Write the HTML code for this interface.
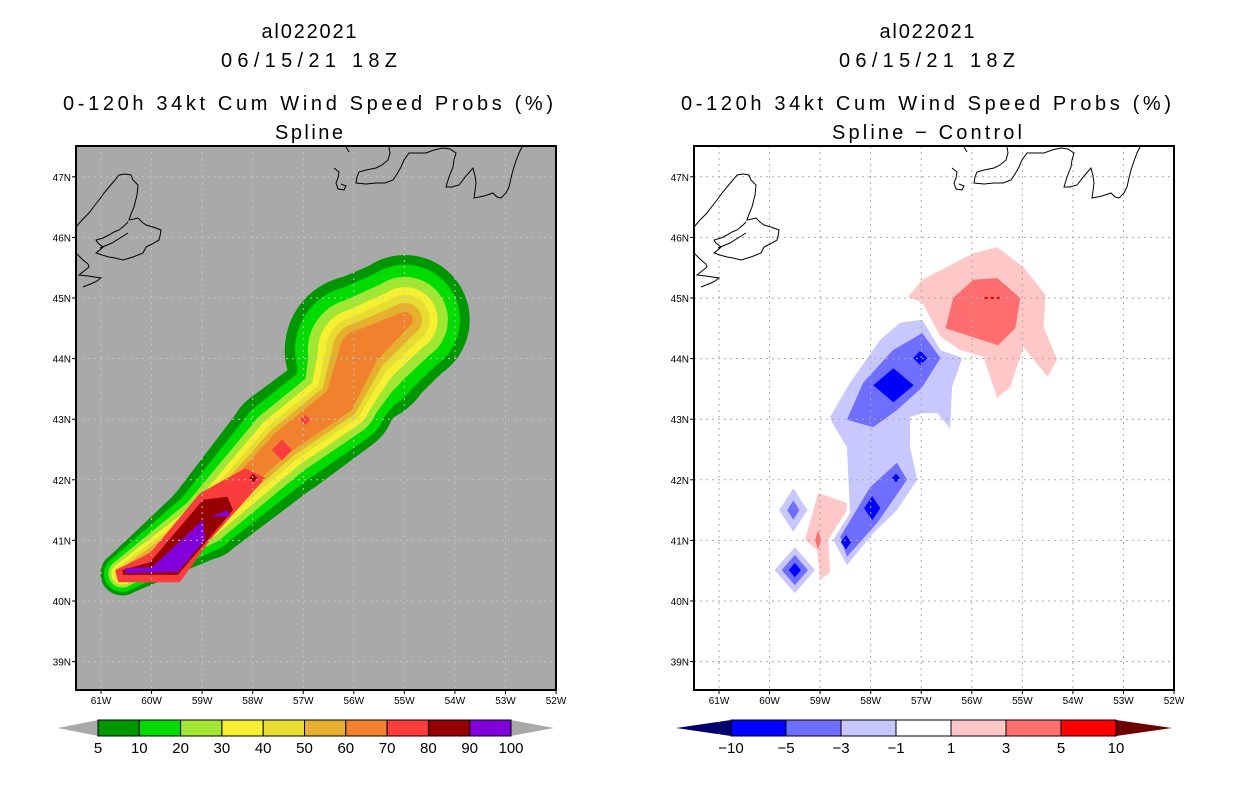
<!DOCTYPE html>
<html><head><meta charset="utf-8"><style>
html,body{margin:0;padding:0;background:#fff;}
svg text{font-family:"Liberation Sans",sans-serif;fill:#000;}
</style></head><body>
<svg id="root" width="1236" height="800" viewBox="0 0 1236 800" xmlns="http://www.w3.org/2000/svg">
<defs>
<clipPath id="clipL"><rect x="76" y="146" width="480" height="544"/></clipPath>
<clipPath id="clipR"><rect x="694" y="146" width="480" height="544"/></clipPath>
</defs>
<g font-size="20" text-anchor="middle">
<text x="309" y="38" textLength="95">al022021</text>
<text x="309" y="67" textLength="176">06/15/21 18Z</text>
<text x="308" y="110" textLength="490">0-120h 34kt Cum Wind Speed Probs (%)</text>
<text x="309" y="139" textLength="68">Spline</text>
</g>
<g font-size="20" text-anchor="middle">
<text x="927" y="38" textLength="95">al022021</text>
<text x="927" y="67" textLength="176">06/15/21 18Z</text>
<text x="926" y="110" textLength="490">0-120h 34kt Cum Wind Speed Probs (%)</text>
<text x="927" y="139" textLength="190">Spline − Control</text>
</g>
<g id="panelL"></g>
<g id="panelR"></g>
<g id="cbL"></g>
<g id="cbR"></g>
</svg>
<script>
// ---- data ----
const lonTicks = [-61,-60,-59,-58,-57,-56,-55,-54,-53,-52];
const latTicks = [39,40,41,42,43,44,45,46,47];
const lonLabels = ["61W","60W","59W","58W","57W","56W","55W","54W","53W","52W"];
const latLabels = ["39N","40N","41N","42N","43N","44N","45N","46N","47N"];
// plume track (lon, lat)
const trackLon = [-60.58,-58.94,-57.40,-56.27,-55.88,-54.99];
const trackLat = [40.45,41.34,42.62,43.32,44.14,44.64];
const probLevels = [5,10,20,30,40,50,60];
// half-width (deg lat) of each probability level at each track point
const rad5  = [0.36,0.66,0.91,0.91,1.24,1.07];
const rad10 = [0.30,0.53,0.74,0.78,1.07,0.91];
const rad20 = [0.23,0.41,0.58,0.63,0.86,0.71];
const rad30 = [0.18,0.31,0.46,0.51,0.69,0.54];
const rad40 = [0.13,0.23,0.36,0.41,0.56,0.41];
const rad50 = [0.08,0.17,0.28,0.33,0.45,0.28];
const rad60 = [0.03,0.10,0.20,0.25,0.33,0.13];
const levelRad = [rad5,rad10,rad20,rad30,rad40,rad50,rad60];
const probPurple = [[-60.52,40.54],[-59.99,40.56],[-58.98,41.34],[-58.94,41.01],[-59.48,40.48],[-60.52,40.46]];
const probPurple2 = [[-58.84,41.39],[-58.49,41.50],[-58.45,41.40]];
const probDarkRed = [[-60.58,40.51],[-60.03,40.64],[-58.98,41.67],[-58.50,41.72],[-58.39,41.50],[-59.48,40.43],[-60.56,40.43]];
const probRed = [[-60.72,40.51],[-60.03,40.79],[-59.04,41.78],[-58.15,42.19],[-57.75,42.03],[-58.84,41.01],[-59.44,40.31],[-60.66,40.31]];
const redDiamondLon = [-57.42,-56.96];
const redDiamondLat = [42.49,42.99];
const redDiamondSize = [0.2,0.1];
const darkRedDotLon = [-57.99];
const darkRedDotLat = [42.03];
// difference field polygons
const diffPink1 = [[-57.26,45.02],[-56.98,45.30],[-55.97,45.74],[-55.50,45.84],[-54.98,45.51],[-54.54,45.05],[-54.58,44.52],[-54.31,43.98],[-54.50,43.70],[-54.98,44.19],[-55.24,43.53],[-55.50,43.35],[-55.77,44.03],[-56.23,44.14],[-56.62,44.36],[-56.98,44.92]];
const diffPink3 = [[-56.52,44.50],[-56.37,45.00],[-55.97,45.30],[-55.50,45.33],[-55.04,45.00],[-55.14,44.50],[-55.48,44.22]];
const diffPinkStrip = [[-59.30,41.01],[-59.04,41.78],[-58.47,41.62],[-58.47,41.50],[-58.84,41.01],[-58.80,40.48],[-59.00,40.35],[-59.06,40.84]];
const diffBlue1 = [[-58.80,43.04],[-58.41,43.60],[-57.81,44.31],[-57.42,44.59],[-56.98,44.64],[-56.62,44.14],[-56.19,44.01],[-56.39,43.53],[-56.43,42.85],[-56.68,43.10],[-56.98,43.10],[-57.22,43.04],[-57.22,42.54],[-57.08,42.00],[-57.48,41.50],[-57.95,41.12],[-58.47,40.59],[-58.74,41.01],[-58.41,41.45],[-58.47,42.54],[-58.76,42.94]];
const diffBlue3a = [[-58.47,42.99],[-58.15,43.60],[-57.56,44.14],[-56.98,44.42],[-56.62,44.01],[-56.98,43.53],[-57.48,43.15],[-57.95,42.87]];
const diffBlue3b = [[-58.60,41.06],[-58.01,41.88],[-57.48,42.28],[-57.28,42.00],[-57.87,41.29],[-58.47,40.73]];
// diamonds: lon, lat, half-width lon, half-height lat, level
const dmLon = [-57.55,-57.02,-57.97,-58.49,-57.50,-59.53,-59.53,-59.50,-59.50,-59.50,-59.04];
const dmLat = [43.56,44.01,41.53,40.97,42.03,41.50,41.50,40.51,40.51,40.51,41.01];
const dmHw = [0.40,0.14,0.16,0.10,0.08,0.28,0.12,0.40,0.26,0.12,0.06];
const dmHh = [0.28,0.12,0.20,0.12,0.07,0.36,0.16,0.38,0.25,0.12,0.16];
const dmLev = ["b5","b5","b5","b5","b5","b1","b3","b1","b3","b5","p3"];
const probColors = ["#009600","#00dc00","#a0e632","#f5f032","#e6dc32","#e6af2d","#f0822d","#fa3c3c","#960000","#8200dc"];
const probCbLabels = ["5","10","20","30","40","50","60","70","80","90","100"];
const diffColors = ["#0000ff","#6e6eff","#c8c8ff","#ffffff","#ffc8c8","#ff6e6e","#ff0000"];
const diffCbLabels = ["−10","−5","−3","−1","1","3","5","10"];
const diffFill = {b1:"#c8c8ff",b3:"#6e6eff",b5:"#0000ff",p1:"#ffc8c8",p3:"#ff6e6e"};

const NS="http://www.w3.org/2000/svg";
function mk(tag,attrs,parent){const e=document.createElementNS(NS,tag);for(const k in attrs)e.setAttribute(k,attrs[k]);parent.appendChild(e);return e;}
const PXLON=50.56, PXLAT=60.6;
function X(x0,lon){return x0+(lon+61)*PXLON;}
function Y(lat){return 601-(lat-40)*PXLAT;}
function polyPts(x0,arr){return arr.map(p=>X(x0,p[0]).toFixed(1)+","+Y(p[1]).toFixed(1)).join(" ");}

const coast1="M76,227 L82,220 L89,213 L95,205 L99,200 L104,193 L109,187 L115,180 L119,175 L125,174 L131,175 L133,180 L138,185 L137,195 L134,207 L131,214 L129,220 L134,219 L138,218 L142,222 L146,225 L153,227 L161,230 L160,236 L159,240 L152,244 L146,247 L144,251 L143,253 L133,257 L123,260 L115,258 L109,257 L102,255 L96,253 L101,249 L103,247 L98,243 L96,240 L103,238 L109,235 L114,232 L119,230 L124,226 L128,222 M76,253 L80,257 L83,260 L88,264 L89,267 L84,271 L79,275 L88,276 L101,278 L97,281 L93,283 L88,285 L83,287 M100,248 L112,243 L120,238 L128,233";
const coast2="M346,147 L349,152 M334,168 L339,172 L338,178 L336,183 L338,189 L344,190 L346,186 L341,184 M389,147 L390,153 L388,160 L382,165 L376,168 L366,170 L359,172 L357,177 L356,183 L366,184 L376,183 L385,183 L393,180 L397,174 L401,167 L404,160 L409,153 L418,153 L426,153 L434,150 L443,148 L450,149 L456,153 L454,160 L453,167 L449,177 L446,187 L452,187 L459,185 L466,176 L473,168 L475,176 L476,183 L475,191 L474,198 L484,196 L493,193 L497,197 L501,198 L506,193 L509,187 L511,178 L513,170 L516,161 L519,153 L523,145";

function drawPanel(g,x0,bx,bg,side){
  const bgRect=mk("rect",{x:bx,y:146,width:480,height:544,fill:bg},g);
  
  
  const fills=mk("g",{"clip-path":"url(#clip"+(side==="left"?"L":"R")+")"},g);
  
  
  return fills;
}
function capsuleLevel(g,x0,rads,color){
  for(let i=0;i<trackLon.length;i++){
    const c=mk("circle",{cx:X(x0,trackLon[i]),cy:Y(trackLat[i]),r:rads[i]*PXLAT,fill:color},g);
    
    
  }
  for(let i=0;i<trackLon.length-1;i++){
    const x1=X(x0,trackLon[i]),y1=Y(trackLat[i]),x2=X(x0,trackLon[i+1]),y2=Y(trackLat[i+1]);
    const r1=rads[i]*PXLAT,r2=rads[i+1]*PXLAT;
    const dx=x2-x1,dy=y2-y1,L=Math.hypot(dx,dy),nx=-dy/L,ny=dx/L;
    const pts=[[x1+nx*r1,y1+ny*r1],[x2+nx*r2,y2+ny*r2],[x2-nx*r2,y2-ny*r2],[x1-nx*r1,y1-ny*r1]].map(p=>p[0].toFixed(1)+","+p[1].toFixed(1)).join(" ");
    const q=mk("polygon",{points:pts,fill:color},g);
    
    
  }
}
function diamond(g,x0,lon,lat,hw,hh,color){
  const cx=X(x0,lon),cy=Y(lat),w=hw*PXLON,h=hh*PXLAT;
  const d=mk("polygon",{points:`${cx-w},${cy} ${cx},${cy-h} ${cx+w},${cy} ${cx},${cy+h}`,fill:color},g);
  
  
}
function gridAxes(g,x0,bx,gridCol,side){
  const gg=mk("g",{stroke:gridCol,"stroke-width":1,"stroke-dasharray":"2,4"},g);
  
  
  lonTicks.forEach(l=>{const x=X(x0,l);if(x>bx&&x<bx+480)mk("line",{x1:x,y1:146,x2:x,y2:690},gg);});
  latTicks.forEach(l=>{const y=Y(l);mk("line",{x1:bx,y1:y,x2:bx+480,y2:y},gg);});
  const cst=mk("path",{d:coast1+" "+coast2,fill:"none",stroke:"#000","stroke-width":1,transform:`translate(${bx-76},0)`},g);
  
  
  const fr=mk("rect",{x:bx,y:146,width:480,height:544,fill:"none",stroke:"#000","stroke-width":2},g);
  
  
  lonTicks.forEach((l,i)=>{
    const x=X(x0,l);
    const t=mk("text",{x:x,y:704,"font-size":10,"text-anchor":"middle"},g);t.textContent=lonLabels[i];
    
    
    mk("line",{x1:x,y1:690,x2:x,y2:694,stroke:"#000"},g);
  });
  latTicks.forEach((l,i)=>{
    const y=Y(l);
    const t=mk("text",{x:bx-5,y:y+4,"font-size":10,"text-anchor":"end"},g);t.textContent=latLabels[i];
    
    
    mk("line",{x1:bx-4,y1:y,x2:bx,y2:y,stroke:"#000"},g);
  });
}
// ---- left panel ----
const gL=document.getElementById("panelL");
const fL=drawPanel(gL,101,76,"#a9a9a9","left");
probLevels.forEach((lv,i)=>capsuleLevel(fL,101,levelRad[i],probColors[i]));
[[probRed,probColors[7]],[probDarkRed,probColors[8]],[probPurple,probColors[9]],[probPurple2,probColors[9]]].forEach(([arr,c])=>{
  const p=mk("polygon",{points:polyPts(101,arr),fill:c},fL);
  
  
});
redDiamondLon.forEach((l,i)=>diamond(fL,101,l,redDiamondLat[i],redDiamondSize[i],redDiamondSize[i]*0.85,probColors[7]));
darkRedDotLon.forEach((l,i)=>diamond(fL,101,l,darkRedDotLat[i],0.08,0.07,probColors[8]));
gridAxes(gL,101,76,"#c4c4c4","left");
// ---- right panel ----
const gR=document.getElementById("panelR");
const fR=drawPanel(gR,719,694,"#ffffff","right");
[[diffPink1,diffFill.p1],[diffPink3,diffFill.p3],[diffPinkStrip,diffFill.p1],[diffBlue1,diffFill.b1],[diffBlue3a,diffFill.b3],[diffBlue3b,diffFill.b3]].forEach(([arr,c])=>{
  const p=mk("polygon",{points:polyPts(719,arr),fill:c},fR);
  
  
});
dmLon.forEach((l,i)=>diamond(fR,719,l,dmLat[i],dmHw[i],dmHh[i],diffFill[dmLev[i]]));
const dash=mk("line",{x1:X(719,-55.75),y1:Y(45),x2:X(719,-55.45),y2:Y(45),stroke:"#ff0000","stroke-width":2,"stroke-dasharray":"4,2"},fR);


gridAxes(gR,719,694,"#aaaaaa","right");
// ---- colorbars ----
function colorbar(g,x1,x2,tipL,tipR,colors,labels,lc,rc,name){
  const w=(x2-x1)/colors.length, y1=720,y2=736,ym=728;
  const tl=mk("polygon",{points:`${tipL},${ym} ${x1},${y1} ${x1},${y2}`,fill:lc},g);
  
  
  const tr=mk("polygon",{points:`${tipR},${ym} ${x2},${y1} ${x2},${y2}`,fill:rc},g);
  
  
  colors.forEach((c,i)=>{
    const r=mk("rect",{x:x1+i*w,y:y1,width:w,height:y2-y1,fill:c,stroke:"#000","stroke-width":1},g);
    
    
  });
  labels.forEach((s,i)=>{
    const t=mk("text",{x:x1+i*w,y:753,"font-size":15,"text-anchor":"middle"},g);t.textContent=s;
    
    
  });
}
colorbar(document.getElementById("cbL"),98,511,58,554,probColors,probCbLabels,"#a9a9a9","#a9a9a9","left-colorbar");
colorbar(document.getElementById("cbR"),731,1116,676,1172,diffColors,diffCbLabels,"#00006e","#6e0000","right-colorbar");
</script>
</body></html>
